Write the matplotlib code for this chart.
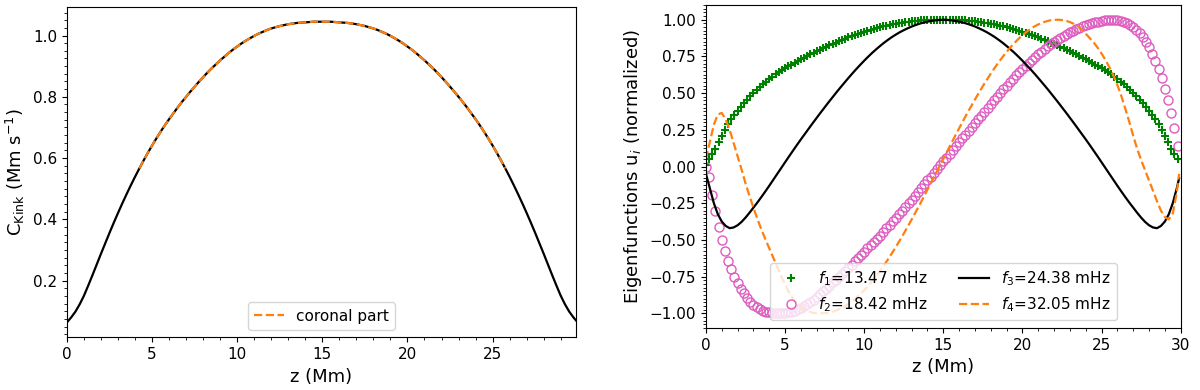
import numpy as np
import matplotlib
matplotlib.use("Agg")
import matplotlib.pyplot as plt
from matplotlib.ticker import MultipleLocator

# ---------------- data ----------------
# grid for the line curves (Mm)
z_line = np.append(np.arange(0, 29.8, 0.25), 29.9)
# grid for the marker curves (Mm)
z_pts = np.round(np.arange(150) * 0.2, 2)

# kink speed (Mm/s) on z_line
c_kink = [
    0.064, 0.080, 0.099, 0.123, 0.151, 0.184, 0.218, 0.253, 0.288, 0.322,
    0.356, 0.389, 0.421, 0.452, 0.482, 0.511, 0.539, 0.566, 0.592, 0.617,
    0.641, 0.664, 0.686, 0.707, 0.727, 0.746, 0.765, 0.783, 0.800, 0.817,
    0.833, 0.849, 0.864, 0.879, 0.893, 0.906, 0.919, 0.931, 0.943, 0.954,
    0.964, 0.974, 0.983, 0.991, 0.999, 1.006, 1.012, 1.018, 1.023, 1.027,
    1.031, 1.034, 1.037, 1.039, 1.041, 1.042, 1.043, 1.044, 1.045, 1.045,
    1.045,
    1.045, 1.045, 1.044, 1.043, 1.042, 1.041, 1.039, 1.037, 1.034, 1.031,
    1.027, 1.023, 1.018, 1.012, 1.006, 0.999, 0.991, 0.983, 0.974, 0.964,
    0.954, 0.943, 0.931, 0.919, 0.906, 0.893, 0.879, 0.864, 0.849, 0.833,
    0.817, 0.800, 0.783, 0.765, 0.746, 0.727, 0.707, 0.686, 0.664, 0.641,
    0.617, 0.592, 0.566, 0.539, 0.511, 0.482, 0.452, 0.421, 0.389, 0.356,
    0.322, 0.288, 0.253, 0.218, 0.184, 0.151, 0.123, 0.099, 0.080, 0.070,
]
coronal_range = (4.25, 25.75)

# eigenfunction 1 (markers, on z_pts)
u1 = [
    0.010, 0.050, 0.085, 0.120, 0.165, 0.210, 0.250, 0.288, 0.322, 0.352,
    0.380, 0.406, 0.432, 0.456, 0.479, 0.500, 0.520, 0.540, 0.559, 0.577,
    0.595, 0.611, 0.627, 0.642, 0.656, 0.670, 0.682, 0.694, 0.706, 0.718,
    0.730, 0.742, 0.754, 0.765, 0.775, 0.785, 0.795, 0.805, 0.815, 0.825,
    0.835, 0.844, 0.853, 0.862, 0.871, 0.880, 0.888, 0.896, 0.904, 0.911,
    0.918, 0.925, 0.932, 0.938, 0.944, 0.950, 0.955, 0.960, 0.965, 0.970,
    0.974, 0.978, 0.981, 0.984, 0.987, 0.990, 0.992, 0.994, 0.996, 0.997,
    0.998, 0.999, 1.000, 1.000, 1.000, 1.000,
    1.000, 1.000, 1.000, 0.999, 0.998, 0.997, 0.996, 0.994, 0.992, 0.990,
    0.987, 0.984, 0.981, 0.978, 0.974, 0.970, 0.965, 0.960, 0.955, 0.950,
    0.944, 0.938, 0.932, 0.925, 0.918, 0.911, 0.904, 0.896, 0.888, 0.880,
    0.871, 0.862, 0.853, 0.844, 0.835, 0.825, 0.815, 0.805, 0.795, 0.785,
    0.775, 0.765, 0.754, 0.742, 0.730, 0.718, 0.706, 0.694, 0.682, 0.670,
    0.656, 0.642, 0.627, 0.611, 0.595, 0.577, 0.559, 0.540, 0.520, 0.500,
    0.479, 0.456, 0.432, 0.406, 0.380, 0.352, 0.322, 0.288, 0.250, 0.210,
    0.165, 0.120, 0.085, 0.050,
]

# eigenfunction 2 (markers, on z_pts)
u2 = [
    0.000, -0.070, -0.195, -0.305, -0.410, -0.500, -0.578, -0.645, -0.700, -0.750,
    -0.795, -0.833, -0.865, -0.895, -0.920, -0.942, -0.958, -0.971, -0.981, -0.989,
    -0.994, -0.998, -1.000, -1.000, -0.999, -0.997, -0.993, -0.988, -0.981, -0.972,
    -0.962, -0.950, -0.937, -0.923, -0.907, -0.890, -0.871, -0.851, -0.831, -0.811,
    -0.790, -0.770, -0.750, -0.730, -0.710, -0.690, -0.668, -0.646, -0.624, -0.602,
    -0.580, -0.558, -0.536, -0.514, -0.492, -0.470, -0.446, -0.422, -0.398, -0.374,
    -0.350, -0.326, -0.302, -0.277, -0.251, -0.225, -0.199, -0.173, -0.147, -0.121,
    -0.095, -0.069, -0.043, -0.017, 0.009, 0.035, 0.061, 0.087, 0.113, 0.139,
    0.165, 0.191, 0.217, 0.243, 0.269, 0.295, 0.321, 0.347, 0.373, 0.399,
    0.425, 0.451, 0.477, 0.502, 0.526, 0.550, 0.574, 0.598, 0.621, 0.643,
    0.665, 0.685, 0.705, 0.725, 0.745, 0.765, 0.783, 0.801, 0.818, 0.834,
    0.850, 0.864, 0.878, 0.891, 0.903, 0.915, 0.926, 0.937, 0.946, 0.955,
    0.963, 0.970, 0.977, 0.983, 0.988, 0.992, 0.996, 0.999, 1.000, 0.999,
    0.996, 0.991, 0.984, 0.975, 0.963, 0.948, 0.930, 0.908, 0.882, 0.850,
    0.812, 0.768, 0.720, 0.665, 0.602, 0.530, 0.450, 0.362, 0.262, 0.140,
]

# eigenfunction 3 (line, on z_line)
u3 = [
    -0.050, -0.150, -0.250, -0.325, -0.375, -0.405, -0.420, -0.415, -0.400, -0.377,
    -0.348, -0.315, -0.280, -0.245, -0.208, -0.170, -0.131, -0.091, -0.051, -0.011,
    0.029, 0.069, 0.108, 0.147, 0.185, 0.222, 0.259, 0.296, 0.332, 0.368,
    0.403, 0.438, 0.472, 0.506, 0.539, 0.571, 0.603, 0.634, 0.664, 0.693,
    0.721, 0.748, 0.774, 0.798, 0.821, 0.843, 0.863, 0.882, 0.899, 0.915,
    0.929, 0.942, 0.954, 0.964, 0.973, 0.981, 0.987, 0.992, 0.996, 0.999,
    1.000,
    0.999, 0.996, 0.992, 0.987, 0.981, 0.973, 0.964, 0.954, 0.942, 0.929,
    0.915, 0.899, 0.882, 0.863, 0.843, 0.821, 0.798, 0.774, 0.748, 0.721,
    0.693, 0.664, 0.634, 0.603, 0.571, 0.539, 0.506, 0.472, 0.438, 0.403,
    0.368, 0.332, 0.296, 0.259, 0.222, 0.185, 0.147, 0.108, 0.069, 0.029,
    -0.011, -0.051, -0.091, -0.131, -0.170, -0.208, -0.245, -0.280, -0.315, -0.348,
    -0.377, -0.400, -0.415, -0.420, -0.405, -0.375, -0.325, -0.250, -0.150, -0.080,
]

# eigenfunction 4 (line, on z_line)
u4 = [
    0.050, 0.170, 0.285, 0.355, 0.365, 0.320, 0.250, 0.160, 0.070, -0.020,
    -0.115, -0.200, -0.280, -0.357, -0.428, -0.494, -0.557, -0.620, -0.682, -0.745,
    -0.805, -0.857, -0.899, -0.933, -0.958, -0.976, -0.988, -0.996, -1.000, -1.000,
    -0.999, -0.996, -0.989, -0.980, -0.968, -0.954, -0.937, -0.917, -0.894, -0.870,
    -0.842, -0.813, -0.781, -0.747, -0.711, -0.673, -0.633, -0.591, -0.548, -0.503,
    -0.457, -0.409, -0.361, -0.311, -0.261, -0.209, -0.157, -0.105, -0.053, 0.000,
    0.053, 0.105, 0.157, 0.209, 0.261, 0.311, 0.361, 0.409, 0.457, 0.503,
    0.548, 0.591, 0.633, 0.673, 0.711, 0.747, 0.781, 0.813, 0.842, 0.870,
    0.894, 0.917, 0.937, 0.954, 0.968, 0.980, 0.989, 0.996, 0.999, 1.000,
    0.998, 0.993, 0.984, 0.972, 0.956, 0.933, 0.905, 0.875, 0.845, 0.810,
    0.770, 0.725, 0.675, 0.620, 0.555, 0.480, 0.395, 0.305, 0.210, 0.120,
    0.045, -0.025, -0.095, -0.165, -0.235, -0.300, -0.345, -0.360, -0.320, -0.180,
    -0.050,
]

labels = [r"$f_1$=13.47 mHz", r"$f_2$=18.42 mHz",
          r"$f_3$=24.38 mHz", r"$f_4$=32.05 mHz"]

# ---------------- figure ----------------
plt.rcParams["font.family"] = ["DejaVu Sans"]
plt.rcParams["xtick.labelsize"] = 11
plt.rcParams["ytick.labelsize"] = 11
plt.rcParams["axes.labelsize"] = 13
plt.rcParams["legend.fontsize"] = 11

fig = plt.figure(figsize=(12, 3.9), dpi=100)
axL = fig.add_axes([0.0558, 0.1351, 0.4242, 0.8477])
axR = fig.add_axes([0.5883, 0.159, 0.3956, 0.828])

orange = "#ff7f0e"
pink = "#dd5cc0"

# left panel
zl = np.asarray(z_line)
ck = np.asarray(c_kink)
axL.plot(zl, ck, color="black", lw=1.6)
mask = (zl >= coronal_range[0]) & (zl <= coronal_range[1])
axL.plot(zl[mask], ck[mask], "--", color=orange, lw=1.6, label="coronal part")
axL.set_xlim(zl[0], zl[-1])
axL.set_xlabel("z (Mm)")
axL.set_ylabel(r"C$_{\mathrm{Kink}}$ (Mm s$^{-1}$)")
axL.xaxis.set_major_locator(MultipleLocator(5))
axL.xaxis.set_minor_locator(MultipleLocator(1))
axL.yaxis.set_major_locator(MultipleLocator(0.2))
axL.yaxis.set_minor_locator(MultipleLocator(0.025))
axL.legend(loc="lower center")

# right panel
axR.plot(z_pts, u1, "+", color="green", ms=6, mew=1.5, label=labels[0])
axR.plot(z_pts, u2, "o", mfc="none", mec=pink, ms=6.5, mew=1.0, label=labels[1])
axR.plot(z_line, u3, "-", color="black", lw=1.6, label=labels[2])
axR.plot(z_line, u4, "--", color=orange, lw=1.6, label=labels[3])
axR.set_xlim(0, 30)
axR.set_xlabel("z (Mm)")
axR.set_ylabel(r"Eigenfunctions u$_i$ (normalized)")
axR.xaxis.set_major_locator(MultipleLocator(5))
axR.xaxis.set_minor_locator(MultipleLocator(1))
axR.yaxis.set_major_locator(MultipleLocator(0.25))
axR.yaxis.set_minor_locator(MultipleLocator(0.025))
axR.legend(loc="lower center", ncol=2)

fig.savefig("out.png", dpi=100)
